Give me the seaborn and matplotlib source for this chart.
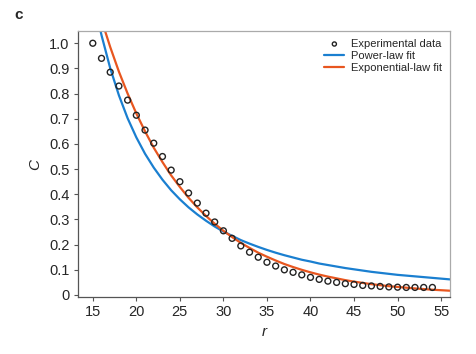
import numpy as np
import pandas as pd
import seaborn as sns
from matplotlib import pyplot as plt

r_data = list(range(15, 55))
c_data = [1.0, 0.94, 0.885, 0.83, 0.774, 0.714, 0.655, 0.603, 0.55, 0.496,
          0.45, 0.405, 0.365, 0.325, 0.29, 0.255, 0.225, 0.195, 0.17, 0.15,
          0.13, 0.115, 0.10, 0.09, 0.08, 0.07, 0.062, 0.055, 0.05, 0.045,
          0.042, 0.038, 0.036, 0.034, 0.032, 0.031, 0.030, 0.030, 0.030, 0.030]

# fitted curves, sampled from the figure
r_fit = [15.5, 16, 17, 18, 19, 20, 21, 22, 23, 24, 25, 26, 27, 28, 29, 30,
         31, 32, 33, 34, 35, 36, 37, 38, 39, 40, 41, 42, 43, 44, 45, 46, 47,
         48, 49, 50, 52, 54, 56]
c_power = [1.108, 1.032, 0.901, 0.793, 0.702, 0.626, 0.561, 0.506, 0.458,
           0.416, 0.380, 0.348, 0.320, 0.295, 0.272, 0.252, 0.235, 0.218,
           0.204, 0.191, 0.179, 0.168, 0.158, 0.149, 0.140, 0.133, 0.125,
           0.119, 0.113, 0.107, 0.102, 0.097, 0.092, 0.088, 0.084, 0.080,
           0.074, 0.068, 0.062]
c_exp = [1.15, 1.093, 0.985, 0.887, 0.800, 0.721, 0.650, 0.585, 0.528, 0.475,
         0.429, 0.386, 0.348, 0.314, 0.283, 0.255, 0.230, 0.207, 0.187, 0.168,
         0.152, 0.137, 0.123, 0.111, 0.100, 0.090, 0.081, 0.073, 0.066, 0.059,
         0.053, 0.048, 0.043, 0.039, 0.035, 0.032, 0.026, 0.021, 0.017]

sns.set_style('ticks')
plt.rcParams['font.family'] = ['Liberation Sans', 'DejaVu Sans']

fig = plt.figure(figsize=(4.77, 3.54), dpi=100)
ax = fig.add_axes([0.1635, 0.161, 0.7795, 0.751])

fits = pd.DataFrame({'r': r_fit, 'pow': c_power, 'exp': c_exp})
sns.scatterplot(x=r_data, y=c_data, ax=ax, s=18, facecolor='none',
                edgecolor='#222222', linewidth=1.0, label='Experimental data', zorder=3)
sns.lineplot(data=fits, x='r', y='pow', ax=ax, color='#1a7fd0', lw=1.6,
             label='Power-law fit')
sns.lineplot(data=fits, x='r', y='exp', ax=ax, color='#e8561f', lw=1.6,
             label='Exponential-law fit')

ax.set_xlim(13.3, 56)
ax.set_ylim(-0.008, 1.048)
ax.set_xticks(range(15, 56, 5))
ax.set_yticks(np.arange(0, 1.01, 0.1))
ax.set_yticklabels(['0'] + ['%.1f' % v for v in np.arange(0.1, 1.01, 0.1)])
ax.tick_params(labelsize=10.5, length=3, width=0.8, color='#555555', pad=3)
for s in ['left', 'bottom']:
    ax.spines[s].set_color('#555555')
    ax.spines[s].set_linewidth(0.9)
for s in ['top', 'right']:
    ax.spines[s].set_visible(True)
    ax.spines[s].set_color('#aaaaaa')
    ax.spines[s].set_linewidth(0.9)

ax.set_xlabel('r', fontstyle='italic', fontsize=11)
ax.set_ylabel('C', fontstyle='italic', fontsize=11, labelpad=5)

ax.legend(loc='upper right', frameon=False, fontsize=8, handlelength=1.8,
          borderaxespad=0.3, labelspacing=0.2, handletextpad=0.6,
          markerscale=0.7)
fig.text(0.03, 0.945, 'c', fontsize=11, fontweight='bold')

fig.savefig('out.png', dpi=100)
